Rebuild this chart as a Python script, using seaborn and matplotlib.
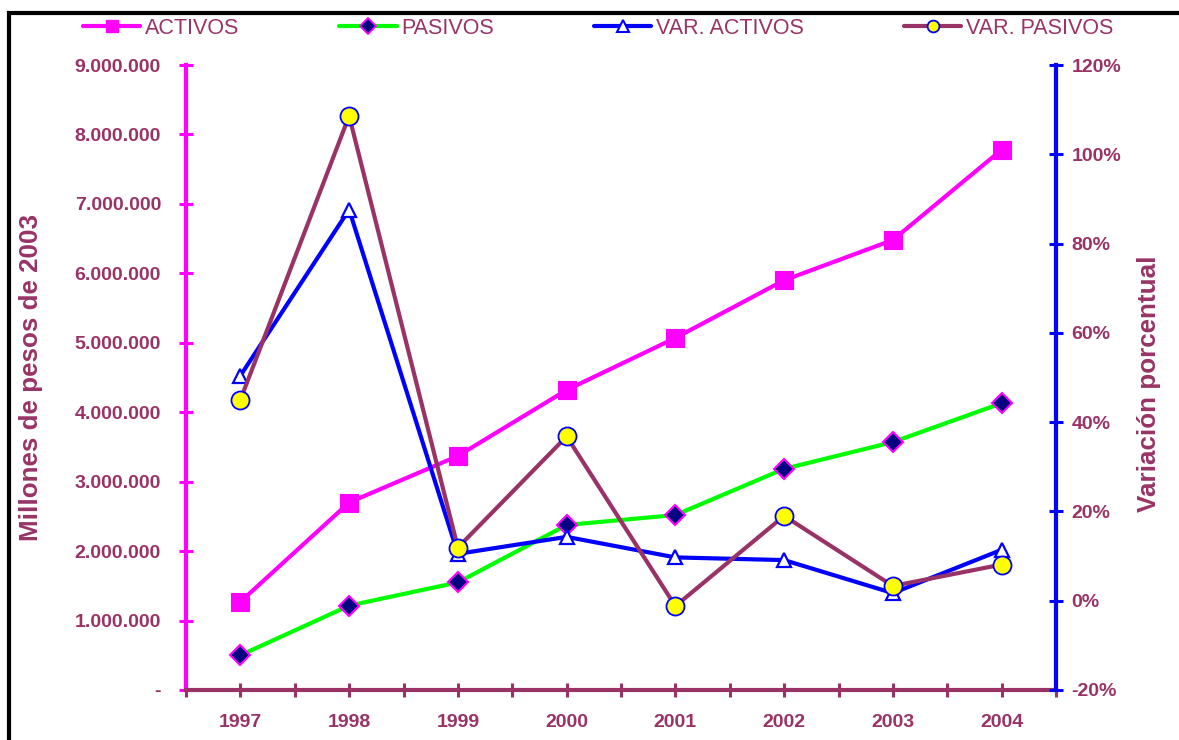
import numpy as np
import matplotlib
matplotlib.use("Agg")
import matplotlib.pyplot as plt
import seaborn as sns
from matplotlib.lines import Line2D
from matplotlib.patches import Rectangle
from matplotlib.ticker import FixedLocator, FuncFormatter

# ---------------- data ----------------
years = ["1997", "1998", "1999", "2000", "2001", "2002", "2003", "2004"]
activos = [1270000, 2700000, 3370000, 4320000, 5070000, 5900000, 6480000, 7780000]
pasivos = [500000, 1215000, 1550000, 2376000, 2520000, 3185000, 3570000, 4130000]
var_activos = [50.4, 87.6, 10.5, 14.3, 9.7, 9.1, 1.7, 11.4]
var_pasivos = [45.0, 108.6, 11.9, 36.8, -1.2, 19.0, 3.3, 8.1]
left_ticks = [0, 1000000, 2000000, 3000000, 4000000, 5000000, 6000000, 7000000, 8000000, 9000000]
right_ticks = [-20, 0, 20, 40, 60, 80, 100, 120]
series_names = ["ACTIVOS", "PASIVOS", "VAR. ACTIVOS", "VAR. PASIVOS"]

PLUM = "#993366"
MAG = "#FF00FF"
GREEN = "#00FF00"
BLUE = "#0000FF"
NAVY = "#000080"
YEL = "#FFFF00"

sns.set_style("white")
plt.rcParams["font.family"] = ["Liberation Sans", "DejaVu Sans"]

W, H = 1179, 740
fig = plt.figure(figsize=(W / 100, H / 100), dpi=100)
ax = fig.add_axes([186 / W, 1 - 690 / H, (1056 - 186) / W, (690 - 65) / H])
ax2 = ax.twinx()

x = np.arange(len(years))

sns.lineplot(x=x, y=activos, ax=ax, color=MAG, lw=3, marker="s", markersize=13,
             markerfacecolor=MAG, markeredgecolor=MAG, markeredgewidth=0.8, zorder=3)
sns.lineplot(x=x, y=pasivos, ax=ax, color=GREEN, lw=3, marker="D", markersize=10,
             markerfacecolor=NAVY, markeredgecolor=MAG, markeredgewidth=1.5, zorder=3)
sns.lineplot(x=x, y=var_activos, ax=ax2, color=BLUE, lw=3, marker="^", markersize=10,
             markerfacecolor="white", markeredgecolor=BLUE, markeredgewidth=1.6, zorder=3)
sns.lineplot(x=x, y=var_pasivos, ax=ax2, color=PLUM, lw=3, marker="o", markersize=13,
             markerfacecolor=YEL, markeredgecolor=BLUE, markeredgewidth=1.3, zorder=4)

# ---------------- axes ----------------
ax.set_xlim(-0.5, len(years) - 0.5)
ax.set_ylim(0, 9000000)
ax2.set_ylim(-20, 120)

for a in (ax, ax2):
    a.spines["top"].set_visible(False)
    a.grid(False)
ax.spines["right"].set_visible(False)
ax2.spines["left"].set_visible(False)
ax2.spines["bottom"].set_visible(False)
ax.spines["left"].set_color(MAG)
ax.spines["left"].set_linewidth(3)
ax.spines["bottom"].set_color(PLUM)
ax.spines["bottom"].set_linewidth(3)
ax2.spines["right"].set_color(BLUE)
ax2.spines["right"].set_linewidth(3)

ax.xaxis.set_major_locator(FixedLocator(x))
ax.set_xticklabels(years)
ax.xaxis.set_minor_locator(FixedLocator(np.arange(-0.5, len(years), 1.0)))
ax.tick_params(axis="x", which="both", direction="inout", length=10, width=2.2,
               color=PLUM, bottom=True)
ax.tick_params(axis="x", which="major", pad=12, labelsize=14, labelcolor=PLUM)

ax.yaxis.set_major_locator(FixedLocator(left_ticks))
ax.yaxis.set_major_formatter(FuncFormatter(
    lambda v, p: "-" if v == 0 else f"{int(v):,}".replace(",", ".")))
ax.tick_params(axis="y", direction="inout", length=10, width=2.2, color=MAG,
               pad=13, labelsize=14, labelcolor=PLUM, left=True)

ax2.yaxis.set_major_locator(FixedLocator(right_ticks))
ax2.yaxis.set_major_formatter(FuncFormatter(lambda v, p: f"{int(v)}%"))
ax2.tick_params(axis="y", direction="inout", length=10, width=2.2, color=BLUE,
                pad=6, labelsize=14, labelcolor=PLUM, right=True)

for lab in ax.get_xticklabels() + ax.get_yticklabels() + ax2.get_yticklabels():
    lab.set_fontweight("bold")

ax.set_ylabel("Millones de pesos de 2003", fontsize=18.7, fontweight="bold", color=PLUM)
ax.yaxis.set_label_coords(-0.1644, 0.5)
ax2.set_ylabel("Variación porcentual", fontsize=18.7, fontweight="bold", color=PLUM,
               rotation=90)
ax2.yaxis.set_label_coords(1.093, 0.49)

# ---------------- legend ----------------
handles = [
    Line2D([], [], color=MAG, lw=3, marker="s", markersize=8.5, markerfacecolor=MAG,
           markeredgecolor=MAG),
    Line2D([], [], color=GREEN, lw=3, marker="D", markersize=8, markerfacecolor=NAVY,
           markeredgecolor=MAG, markeredgewidth=1.3),
    Line2D([], [], color=BLUE, lw=3, marker="^", markersize=8.5, markerfacecolor="white",
           markeredgecolor=BLUE, markeredgewidth=1.5),
    Line2D([], [], color=PLUM, lw=3, marker="o", markersize=8.5, markerfacecolor=YEL,
           markeredgecolor=BLUE, markeredgewidth=1.3),
]
leg = fig.legend(handles, series_names, loc="center left",
                 bbox_to_anchor=(83 / W, 1 - 28 / H), ncol=4, frameon=False,
                 handlelength=2.65, handletextpad=0.23, columnspacing=4.65,
                 borderpad=0, borderaxespad=0,
                 prop={"family": ["Liberation Sans", "DejaVu Sans"], "size": 15.5})
for t in leg.get_texts():
    t.set_color(PLUM)

# ---------------- outer frame ----------------
fig.patches.append(Rectangle((9 / W, -0.05), 1.2, 0.05 + 1 - 13 / H,
                             transform=fig.transFigure, fill=False,
                             edgecolor="black", lw=3, zorder=10))

fig.savefig("out.png", dpi=100)
